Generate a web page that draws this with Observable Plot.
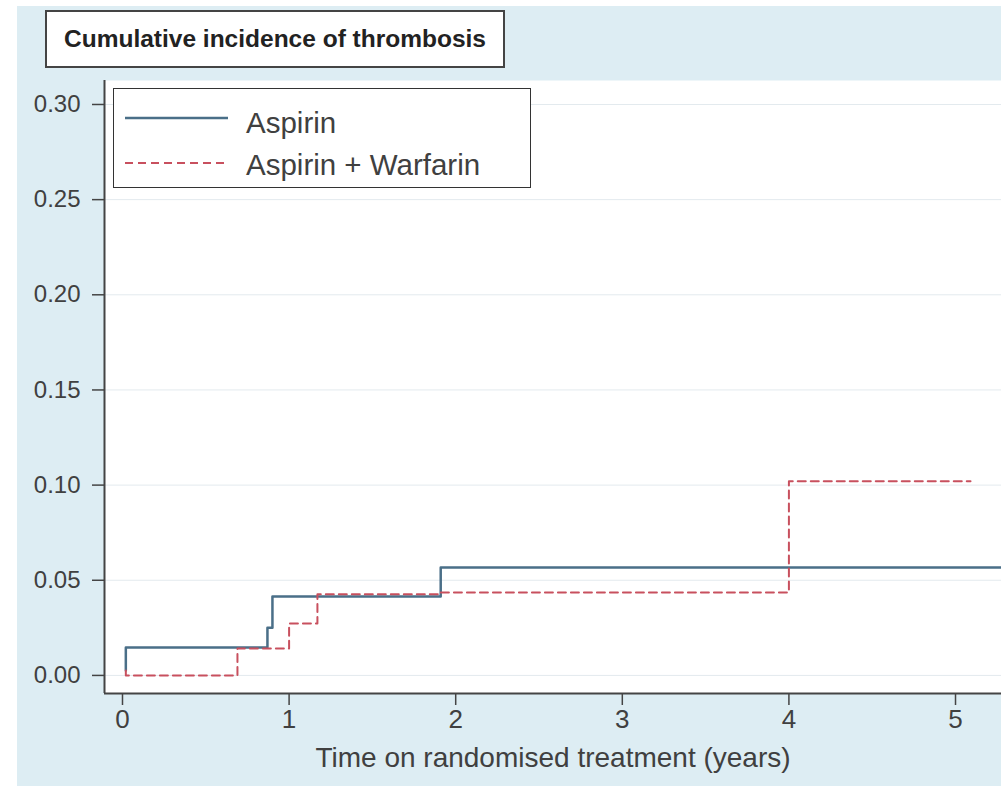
<!DOCTYPE html>
<html>
<head>
<meta charset="utf-8">
<script src="https://cdn.jsdelivr.net/npm/d3@7"></script>
<script src="https://cdn.jsdelivr.net/npm/@observablehq/plot@0.6"></script>
<style>
  html, body { margin: 0; padding: 0; background: #ffffff; width: 1001px; height: 786px; overflow: hidden; }
  #bg { position: absolute; left: 17px; top: 6px; width: 984px; height: 780px; background: #ddedf3; }
  #chart { position: absolute; left: 0; top: 0; }
  #title { position: absolute; left: 45px; top: 10px; width: 460px; height: 58px; box-sizing: border-box;
           background: #fff; border: 2px solid #444; font-family: "Liberation Sans", Arial, sans-serif;
           font-weight: bold; font-size: 24.5px; color: #222; display: flex; align-items: center; justify-content: center; }
  #legend { position: absolute; left: 113px; top: 88px; width: 418px; height: 100px; box-sizing: border-box;
            background: #fff; border: 1.5px solid #333; font-family: "Liberation Sans", Arial, sans-serif; color: #404040; }
  #legend svg { position: absolute; left: 0; top: 0; }
  #legend .lab { position: absolute; left: 132px; font-size: 29.5px; line-height: 1; }
</style>
</head>
<body>
<div id="bg"></div>
<div id="chart"></div>
<div id="title">Cumulative incidence of thrombosis</div>
<div id="legend">
  <svg width="130" height="100">
    <line x1="11" x2="114" y1="29" y2="29" stroke="#4a6f88" stroke-width="2.5"></line>
    <line x1="11" x2="114" y1="74" y2="74" stroke="#c8505e" stroke-width="2" stroke-dasharray="8,5"></line>
  </svg>
  <div class="lab" style="top:19px">Aspirin</div>
  <div class="lab" style="top:61px">Aspirin + Warfarin</div>
</div>
<script>
// Data
const aspirinTime = [0.02, 0.02, 0.87, 0.90, 1.91, 5.30];
const aspirinCI   = [0.0026, 0.0147, 0.025, 0.0415, 0.0567, 0.0567];
const warfTime = [0.02, 0.02, 0.69, 1.00, 1.17, 1.91, 4.00, 5.09];
const warfCI   = [0.0026, 0.0, 0.0142, 0.0273, 0.0426, 0.0436, 0.102, 0.102];
const yTicks = [0, 0.05, 0.10, 0.15, 0.20, 0.25, 0.30];
const xTicks = [0, 1, 2, 3, 4, 5];

const aspirin = aspirinTime.map((t, i) => ({t, v: aspirinCI[i]}));
const warf = warfTime.map((t, i) => ({t, v: warfCI[i]}));

const xDomain = [-0.108, 5.276];
const yDomain = [-0.0095, 0.3126];

const chart = Plot.plot({
  width: 1001,
  height: 786,
  marginLeft: 104,
  marginRight: 0,
  marginTop: 80,
  marginBottom: 93,
  style: {background: "transparent", fontFamily: "'Liberation Sans', Arial, sans-serif", color: "#404040", overflow: "visible"},
  x: {domain: xDomain},
  y: {domain: yDomain},
  marks: [
    Plot.frame({fill: "white", stroke: "none"}),
    Plot.gridY(yTicks, {stroke: "#e3eaee", strokeOpacity: 1, strokeWidth: 1}),
    Plot.axisY(yTicks, {tickSize: 12, tickPadding: 12, tickFormat: d => d.toFixed(2), fontSize: 24, label: null, stroke: "#444", strokeWidth: 1.5}),
    Plot.axisX(xTicks, {tickSize: 12, tickPadding: 4, fontSize: 26, stroke: "#444", strokeWidth: 1.5, tickFormat: d => String(d), label: null}),
    Plot.axisX({ticks: [], fontSize: 28, label: "Time on randomised treatment (years)", labelAnchor: "center", labelArrow: "none", labelOffset: 73}),
    Plot.ruleY([yDomain[0]], {stroke: "#444", strokeWidth: 2}),
    Plot.ruleX([xDomain[0]], {stroke: "#444", strokeWidth: 2}),
    Plot.line(aspirin, {x: "t", y: "v", curve: "step-after", stroke: "#4a6f88", strokeWidth: 2.5, clip: true}),
    Plot.line(warf, {x: "t", y: "v", curve: "step-after", stroke: "#c8505e", strokeWidth: 2, strokeDasharray: "8,5", clip: true})
  ]
});
document.getElementById("chart").appendChild(chart);
</script>
</body>
</html>
